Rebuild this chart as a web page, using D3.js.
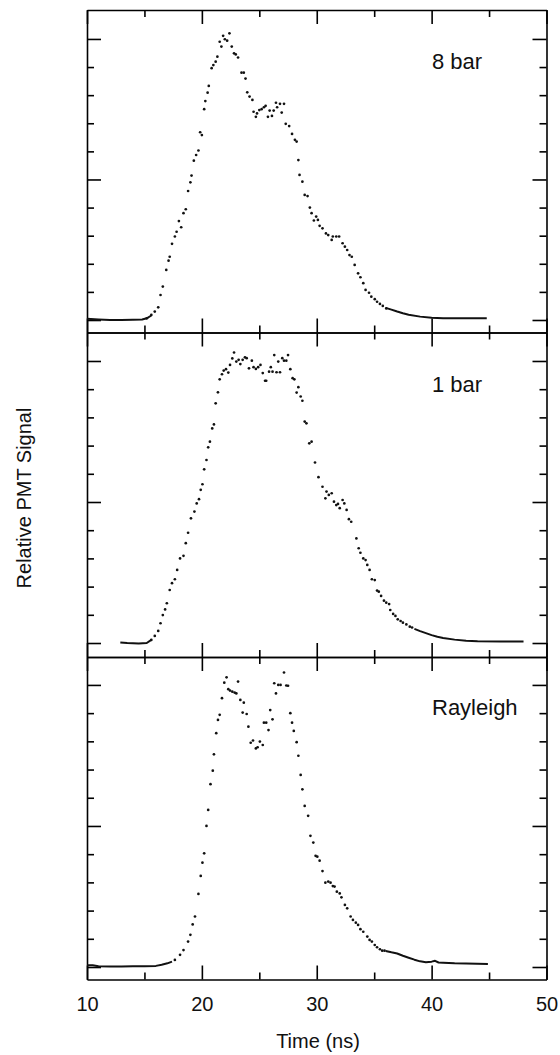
<!DOCTYPE html>
<html>
<head>
<meta charset="utf-8">
<script src="https://cdn.jsdelivr.net/npm/d3@7"></script>
<style>
  html, body { margin: 0; padding: 0; background: #fff; }
  svg { display: block; font-family: "Liberation Sans", Arial, Helvetica, sans-serif; }
</style>
</head>
<body>
<div id="chart"></div>
<script>
// [time (ns), relative signal]
// dots = separately visible samples, trace = dense runs that merge into a line
const bar8Dots = [
  [15.2,0.006],[15.6,0.018],[15.9,0.030],[16.2,0.045],[16.4,0.089],[16.6,0.119],[16.9,0.178],[17.1,0.211],
  [17.2,0.225],[17.4,0.271],[17.65,0.297],[17.8,0.314],[18.0,0.352],[18.2,0.330],[18.4,0.380],[18.6,0.394],
  [18.8,0.459],[19.0,0.490],[19.1,0.514],[19.3,0.567],[19.5,0.587],[19.7,0.603],[19.85,0.668],[20.0,0.658],
  [20.2,0.750],[20.3,0.779],[20.5,0.809],[20.6,0.833],[20.85,0.896],[21.0,0.907],[21.2,0.919],[21.35,0.937],
  [21.55,0.990],[21.7,0.973],[21.85,1.011],[22.0,0.999],[22.2,0.994],[22.4,1.020],[22.6,0.973],[22.8,0.949],
  [22.95,0.945],[23.15,0.934],[23.45,0.880],[23.65,0.880],[23.8,0.859],[23.95,0.810],[24.15,0.795],[24.4,0.783],
  [24.5,0.741],[24.7,0.723],[24.8,0.735],[25.0,0.747],[25.2,0.750],[25.4,0.757],[25.55,0.762],[25.75,0.723],
  [25.9,0.745],[26.1,0.726],[26.25,0.745],[26.45,0.773],[26.55,0.757],[26.8,0.769],[26.95,0.738],[27.15,0.769],
  [27.3,0.698],[27.6,0.690],[27.85,0.662],[28.1,0.641],[28.25,0.635],[28.4,0.569],[28.5,0.516],[28.75,0.492],
  [28.95,0.445],[29.2,0.441],[29.4,0.400],[29.55,0.380],[29.75,0.354],[29.95,0.368],[30.1,0.356],[30.25,0.335],
  [30.5,0.326],[30.8,0.308],[31.0,0.302],[31.3,0.285],[31.4,0.297],[31.7,0.297],[31.95,0.297],[32.25,0.273],
  [32.45,0.261],[32.65,0.249],[32.85,0.231],[33.05,0.225],[33.3,0.196],[33.6,0.166],[33.8,0.152],[34.05,0.131],
  [34.25,0.107],[34.55,0.097],[34.75,0.083],[35.05,0.074],[35.25,0.065],[35.5,0.057],[35.75,0.050],[36.05,0.041]
]
const bar8Trace = [
  [[10,0.004],[11,0.002],[12,0.0],[13,0.0],[14,0.001],[14.8,0.002],[15.2,0.006],[15.6,0.016]],
  [[36.0,0.043],[36.5,0.037],[37.0,0.030],[37.5,0.024],[38.0,0.019],[39.0,0.012],[40.0,0.008],[41.0,0.006],[43.0,0.006],[44.8,0.006]]
]

const bar1Dots = [
  [15.6,0.011],[15.9,0.025],[16.2,0.043],[16.4,0.070],[16.6,0.099],[16.8,0.119],[16.95,0.141],[17.2,0.188],
  [17.4,0.212],[17.65,0.226],[17.85,0.259],[18.1,0.300],[18.4,0.309],[18.6,0.354],[18.8,0.391],[19.05,0.442],
  [19.35,0.466],[19.55,0.495],[19.75,0.510],[19.9,0.543],[20.05,0.563],[20.2,0.616],[20.4,0.649],[20.55,0.694],
  [20.7,0.714],[20.9,0.761],[21.05,0.775],[21.2,0.850],[21.4,0.889],[21.55,0.935],[21.75,0.953],[21.9,0.966],
  [22.1,0.971],[22.3,0.959],[22.45,0.986],[22.65,1.009],[22.8,1.030],[23.0,0.998],[23.2,1.004],[23.35,0.989],
  [23.55,1.004],[23.75,1.013],[23.9,1.010],[24.1,0.974],[24.35,1.001],[24.5,0.978],[24.7,0.972],[24.9,0.978],
  [25.1,0.986],[25.3,0.957],[25.5,0.930],[25.6,0.930],[25.85,0.962],[26.0,0.978],[26.15,0.962],[26.3,1.021],
  [26.5,0.960],[26.65,0.998],[26.8,0.960],[27.0,1.010],[27.15,1.001],[27.35,1.001],[27.5,1.021],[27.7,0.971],
  [27.9,0.939],[28.05,0.935],[28.25,0.888],[28.4,0.907],[28.6,0.874],[28.75,0.859],[28.95,0.785],[29.1,0.779],
  [29.35,0.708],[29.55,0.714],[29.85,0.640],[30.15,0.588],[30.5,0.554],[30.75,0.513],[30.85,0.537],[31.05,0.525],
  [31.3,0.531],[31.5,0.501],[31.7,0.489],[31.85,0.493],[32.0,0.478],[32.25,0.507],[32.4,0.495],[32.6,0.472],
  [32.8,0.439],[33.0,0.430],[33.45,0.371],[33.65,0.336],[33.8,0.320],[34.05,0.300],[34.25,0.294],[34.4,0.277],
  [34.6,0.259],[34.8,0.226],[35.05,0.223],[35.25,0.186],[35.4,0.182],[35.6,0.167],[35.85,0.150],[36.05,0.143],
  [36.3,0.138],[36.4,0.117],[36.65,0.103],[36.85,0.096],[37.05,0.084],[37.3,0.078],[37.5,0.072],[37.8,0.066],
  [38.1,0.058],[38.3,0.055]
]
const bar1Trace = [
  [[12.9,0.002],[13.5,0.0],[14.5,-0.002],[15.2,0.0],[15.6,0.011]],
  [[38.5,0.050],[39.0,0.042],[39.5,0.035],[40.0,0.028],[40.5,0.022],[41.0,0.018],[42.0,0.012],[43.0,0.008],[44.0,0.006],[46.0,0.005],[48.0,0.005]]
]

const rayleighDots = [
  [17.65,0.025],[18.1,0.043],[18.4,0.060],[18.8,0.090],[19.0,0.114],[19.2,0.151],[19.4,0.179],[19.7,0.259],
  [19.9,0.323],[20.05,0.370],[20.2,0.403],[20.4,0.500],[20.55,0.557],[20.75,0.648],[20.95,0.696],[21.05,0.754],
  [21.25,0.829],[21.4,0.876],[21.55,0.894],[21.75,0.953],[21.95,1.008],[22.15,1.027],[22.3,0.985],[22.45,0.980],
  [22.65,0.976],[22.85,0.973],[23.0,0.970],[23.15,1.012],[23.35,0.947],[23.55,0.902],[23.65,0.937],[23.9,0.897],
  [24.05,0.852],[24.25,0.795],[24.45,0.803],[24.7,0.775],[24.85,0.779],[25.05,0.799],[25.3,0.787],[25.4,0.866],
  [25.6,0.866],[25.8,0.840],[25.95,0.911],[26.15,0.878],[26.3,1.006],[26.45,0.970],[26.65,1.000],[26.85,1.000],
  [27.15,1.044],[27.35,0.998],[27.5,0.997],[27.7,0.900],[27.85,0.866],[28.0,0.837],[28.25,0.797],[28.4,0.749],
  [28.6,0.681],[28.75,0.630],[28.95,0.571],[29.25,0.536],[29.45,0.465],[29.7,0.441],[29.9,0.394],[30.05,0.391],
  [30.25,0.377],[30.5,0.340],[30.75,0.299],[31.0,0.303],[31.2,0.299],[31.4,0.287],[31.55,0.285],[31.75,0.267],
  [32.0,0.261],[32.15,0.247],[32.45,0.220],[32.65,0.208],[32.95,0.179],[33.15,0.167],[33.4,0.157],[33.6,0.149],
  [33.8,0.134],[34.05,0.125],[34.4,0.108],[34.6,0.096],[34.8,0.090],[35.05,0.078],[35.25,0.070],[35.5,0.063],
  [35.7,0.058],[35.9,0.058]
]
const rayleighTrace = [
  [[10,0.006],[10.5,0.006],[11,0.003],[12,0.002],[13,0.002],[14,0.003],[15,0.003],[16,0.004],[16.5,0.008],[17,0.013],[17.4,0.019]],
  [[36.0,0.057],[36.5,0.052],[37.0,0.048],[37.5,0.040],[38.0,0.033],[38.5,0.026],[39.0,0.020],[39.5,0.017],[40.0,0.019],[40.3,0.022],[40.6,0.016],[41.0,0.015],[42.0,0.013],[43.0,0.012],[44.9,0.011]]
]

const panelNames = ['8 bar', '1 bar', 'Rayleigh']
const xMajor = [10, 20, 30, 40, 50]
const xMinor = [15, 25, 35, 45]
const yMajor = [0, 0.5, 1]
const yMinor = [0.1, 0.2, 0.3, 0.4, 0.6, 0.7, 0.8, 0.9]

/* Layout */
const width = 560
const height = 1055
const x0 = 87, x1 = 546.5
const panels = [
  { name: panelNames[0], dots: bar8Dots, trace: bar8Trace, top: 10, bottom: 332.5, domain: [-0.0445, 1.103], labelY: 69 },
  { name: panelNames[1], dots: bar1Dots, trace: bar1Trace, top: 332.5, bottom: 657, domain: [-0.0496, 1.101], labelY: 392 },
  { name: panelNames[2], dots: rayleighDots, trace: rayleighTrace, top: 657, bottom: 979.5, domain: [-0.0443, 1.099], labelY: 715 },
]

const x = d3.scaleLinear([10, 50], [x0, x1])

const svg = d3.select('#chart')
  .append('svg')
  .attr('width', width)
  .attr('height', height)
  .attr('viewBox', [0, 0, width, height])

function styleAxis(g, keepDomain) {
  g.selectAll('line').attr('stroke', '#000').attr('stroke-width', 1.6)
  if (keepDomain) g.select('.domain').attr('stroke', '#000').attr('stroke-width', 1.6)
  else g.select('.domain').remove()
  g.selectAll('text').remove()
}

panels.forEach(p => {
  const y = d3.scaleLinear(p.domain, [p.bottom, p.top])
  const g = svg.append('g')

  // y ticks, pointing inward on both sides
  ;[[yMajor, 14, true], [yMinor, 7, false]].forEach(([vals, size, dom]) => {
    g.append('g').attr('transform', `translate(${x0},0)`)
      .call(d3.axisRight(y).tickValues(vals).tickSize(size).tickSizeOuter(0))
      .call(a => styleAxis(a, dom))
    g.append('g').attr('transform', `translate(${x1},0)`)
      .call(d3.axisLeft(y).tickValues(vals).tickSize(size).tickSizeOuter(0))
      .call(a => styleAxis(a, dom))
  })

  // x ticks at panel top and bottom, inward
  ;[[xMajor, 14, true], [xMinor, 7, false]].forEach(([vals, size, dom]) => {
    g.append('g').attr('transform', `translate(0,${p.top})`)
      .call(d3.axisBottom(x).tickValues(vals).tickSize(size).tickSizeOuter(0))
      .call(a => styleAxis(a, dom))
    g.append('g').attr('transform', `translate(0,${p.bottom})`)
      .call(d3.axisTop(x).tickValues(vals).tickSize(size).tickSizeOuter(0))
      .call(a => styleAxis(a, dom))
  })

  // dense runs
  const line = d3.line().x(d => x(d[0])).y(d => y(d[1]))
  g.append('g')
    .selectAll('path')
    .data(p.trace)
    .join('path')
    .attr('d', line)
    .attr('fill', 'none')
    .attr('stroke', '#111')
    .attr('stroke-width', 2)
    .attr('stroke-linejoin', 'round')

  // sample dots
  g.append('g')
    .attr('fill', '#111')
    .selectAll('circle')
    .data(p.dots)
    .join('circle')
    .attr('cx', d => x(d[0]))
    .attr('cy', d => y(d[1]))
    .attr('r', 1.35)

  g.append('text')
    .attr('x', 432)
    .attr('y', p.labelY)
    .attr('font-size', 22)
    .attr('fill', '#111')
    .text(p.name)
})

// bottom tick labels
svg.append('g')
  .attr('transform', `translate(0,${panels[2].bottom})`)
  .call(d3.axisBottom(x).tickValues(xMajor).tickSize(0).tickPadding(17))
  .call(g => g.select('.domain').remove())
  .call(g => g.selectAll('text').attr('font-size', 20).attr('font-family', null).attr('fill', '#111'))

svg.append('text')
  .attr('x', 318)
  .attr('y', 1048)
  .attr('text-anchor', 'middle')
  .attr('font-size', 20)
  .attr('fill', '#111')
  .text('Time (ns)')

svg.append('text')
  .attr('transform', 'translate(31,498) rotate(-90)')
  .attr('text-anchor', 'middle')
  .attr('font-size', 20)
  .attr('fill', '#111')
  .text('Relative PMT Signal')
</script>
</body>
</html>
